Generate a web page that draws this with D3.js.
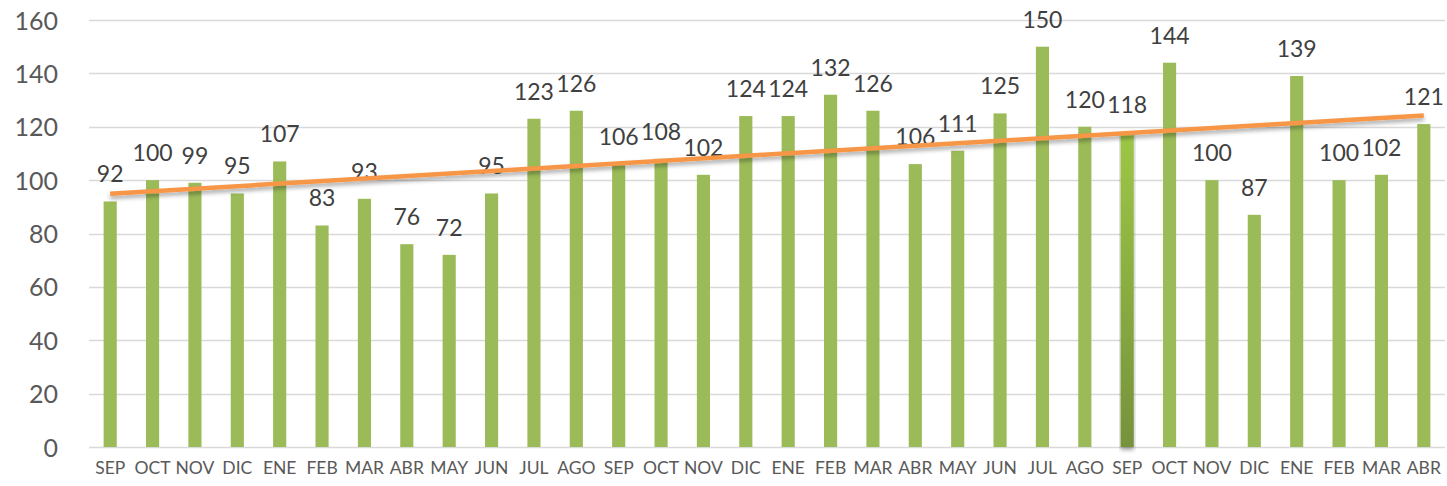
<!DOCTYPE html>
<html>
<head>
<meta charset="utf-8">
<script src="https://cdn.jsdelivr.net/npm/d3@7"></script>
<style>
  html, body { margin: 0; padding: 0; background: #fff; }
  svg { display: block; font-family: Lato, "Open Sans", sans-serif; }
</style>
</head>
<body>
<svg id="chart" width="1447" height="486"></svg>
<script>
// meses y valores
const months = ["SEP","OCT","NOV","DIC","ENE","FEB","MAR","ABR","MAY","JUN","JUL","AGO",
                "SEP","OCT","NOV","DIC","ENE","FEB","MAR","ABR","MAY","JUN","JUL","AGO",
                "SEP","OCT","NOV","DIC","ENE","FEB","MAR","ABR"];
const values = [92,100,99,95,107,83,93,76,72,95,123,126,
                106,108,102,124,124,132,126,106,111,125,150,120,
                118,144,100,87,139,100,102,121];
const yTicks = [0,20,40,60,80,100,120,140,160];
const highlightIndex = 24; // barra resaltada (SEP)

const W = 1447, H = 486;
const margin = { top: 20, right: 2, bottom: 39, left: 89 };

const svg = d3.select("#chart");
const ids = months.map((m, i) => i);

const x = d3.scaleBand().domain(ids).range([margin.left, W - margin.right]).paddingInner(0.69).paddingOuter(0.345);
const y = d3.scaleLinear().domain([0, 160]).range([H - margin.bottom, margin.top]);

const defs = svg.append("defs");
const grad = defs.append("linearGradient").attr("id", "hl").attr("x1", 0).attr("y1", 0).attr("x2", 0).attr("y2", 1);
grad.append("stop").attr("offset", "0%").attr("stop-color", "#9dc746");
grad.append("stop").attr("offset", "100%").attr("stop-color", "#76923c");
const sh = defs.append("filter").attr("id", "shadow").attr("x", "-10%").attr("y", "-50%").attr("width", "120%").attr("height", "300%");
sh.append("feDropShadow").attr("dx", 0).attr("dy", 3).attr("stdDeviation", 2).attr("flood-color", "#000").attr("flood-opacity", 0.35);

// grid
svg.append("g")
  .selectAll("line").data(yTicks).join("line")
  .attr("x1", margin.left).attr("x2", W - margin.right)
  .attr("y1", d => Math.round(y(d)) + 0.5).attr("y2", d => Math.round(y(d)) + 0.5)
  .attr("stroke", "#d9d9d9").attr("stroke-width", 1.3);

// eje y
svg.append("g")
  .attr("transform", `translate(${margin.left - 31},0)`)
  .call(d3.axisLeft(y).tickValues(yTicks).tickSize(0).tickPadding(0))
  .call(g => g.select(".domain").remove())
  .selectAll("text")
  .attr("fill", "#595959").attr("font-size", 25).attr("font-family", "Lato, sans-serif").attr("dy", "0.36em");

// eje x
svg.append("g")
  .attr("transform", `translate(0,${H - margin.bottom})`)
  .call(d3.axisBottom(x).tickSize(0).tickPadding(15).tickFormat(i => months[i]))
  .call(g => g.select(".domain").remove())
  .selectAll("text")
  .attr("fill", "#595959").attr("font-size", 17.5).attr("font-family", "Lato, sans-serif");

// barras
svg.append("g")
  .selectAll("rect").data(values).join("rect")
  .attr("x", (d, i) => x(i))
  .attr("y", d => y(d))
  .attr("width", x.bandwidth())
  .attr("height", d => y(0) - y(d))
  .attr("fill", (d, i) => i === highlightIndex ? "url(#hl)" : "#9bbb59")
  .attr("filter", (d, i) => i === highlightIndex ? "url(#shadow)" : null);

// etiquetas de datos
svg.append("g")
  .selectAll("text").data(values).join("text")
  .attr("x", (d, i) => x(i) + x.bandwidth() / 2)
  .attr("y", d => y(d) - 19)
  .attr("text-anchor", "middle")
  .attr("fill", "#404040").attr("font-size", 23)
  .text(d => d);

// línea de tendencia (mínimos cuadrados)
const n = values.length;
const mx = d3.mean(ids), my = d3.mean(values);
const slope = d3.sum(ids, i => (i - mx) * (values[i] - my)) / d3.sum(ids, i => (i - mx) ** 2);
const icpt = my - slope * mx;
const trend = [0, n - 1].map(i => [x(i) + x.bandwidth() / 2, y(icpt + slope * i)]);

svg.append("path")
  .attr("d", d3.line()(trend))
  .attr("stroke", "#f79646").attr("stroke-width", 4.5).attr("fill", "none")
  .attr("filter", "url(#shadow)");
</script>
</body>
</html>
